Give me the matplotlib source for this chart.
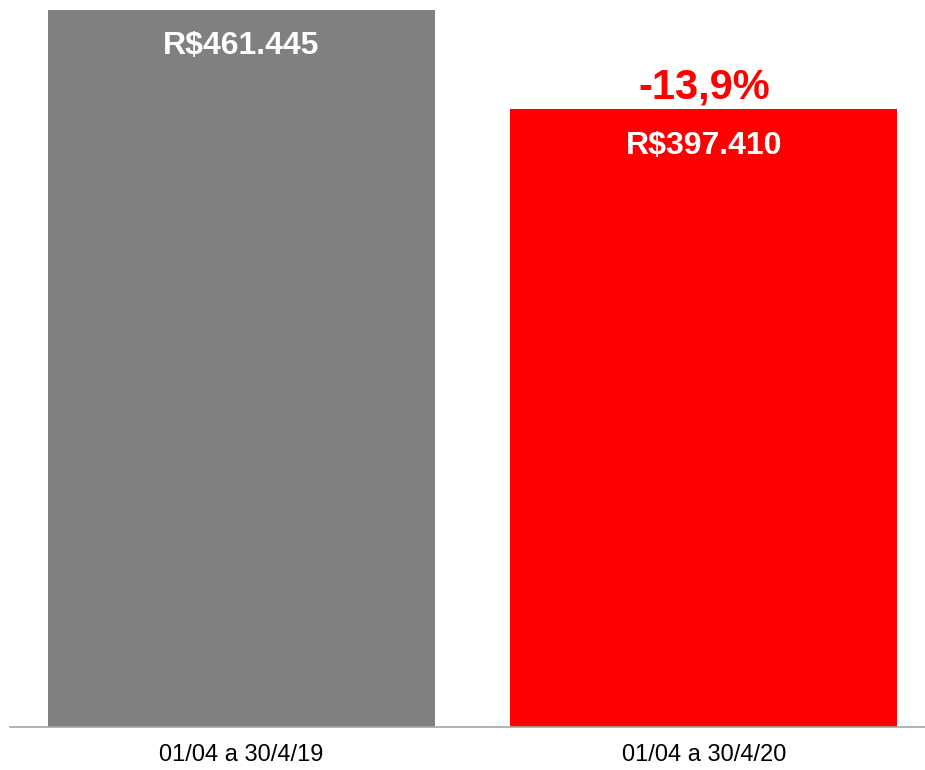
import matplotlib.pyplot as plt

plt.rcParams['font.family'] = ['Liberation Sans', 'DejaVu Sans']

# data
periods = ["01/04 a 30/4/19", "01/04 a 30/4/20"]
values = [461445, 397410]
value_labels = ["R$461.445", "R$397.410"]
change_label = "-13,9%"
colors = ["#808080", "#ff0000"]

fig = plt.figure(figsize=(9.25, 7.7), dpi=100)
# axes placed so the baseline sits at ~727px and the taller bar top at ~10px
ax = fig.add_axes([10 / 925, 43 / 770, 915 / 925, 717 / 770])

x = list(range(len(values)))
bars = ax.bar(x, values, width=0.837, color=colors, zorder=2)

ax.set_xlim(-0.5005, 1.478)
ax.set_ylim(0, values[0])

for b, lab in zip(bars, value_labels):
    ax.annotate(lab, (b.get_x() + b.get_width() / 2, b.get_height()),
                xytext=(0, -26), textcoords="offset points",
                ha="center", va="center", color="white",
                fontsize=23, fontweight="bold")

# variation label above the second bar
b = bars[1]
ax.annotate(change_label, (b.get_x() + b.get_width() / 2, b.get_height()),
            xytext=(0, 16), textcoords="offset points",
            ha="center", va="center", color="#ff0000",
            fontsize=30, fontweight="bold", annotation_clip=False)

ax.set_xticks(x)
ax.set_xticklabels(periods, fontsize=17)
ax.tick_params(axis="x", length=0, pad=12)
ax.set_yticks([])

for s in ["top", "left", "right"]:
    ax.spines[s].set_visible(False)
ax.spines["bottom"].set_color("#a6a6a6")
ax.spines["bottom"].set_linewidth(1.2)

fig.savefig("out.png", dpi=100)
